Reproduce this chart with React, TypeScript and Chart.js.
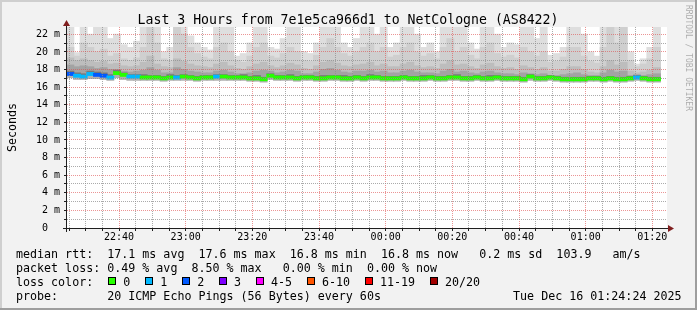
import { useEffect, useRef } from 'react';
import { Chart, registerables } from 'chart.js';

Chart.register(...registerables);

const FONT = '"DejaVu Sans Mono", monospace';

const TITLE = 'Last 3 Hours from 7e1e5ca966d1 to NetCologne (AS8422)';
const Y_AXIS_TITLE = 'Seconds';
const WATERMARK = 'RRDTOOL / TOBI OETIKER';

// time is expressed in minutes after 22:00
const WINDOW_START = 24.4; // 22:24:24
const WINDOW_END = 204.4; // 01:24:24
const COLUMN_MINUTES = 2;
const Y_MAX = 22.84;

const xMajorLabels = ['22:40', '23:00', '23:20', '23:40', '00:00', '00:20', '00:40', '01:00', '01:20'];
const yMajorLabels = ['0  ', '2 m', '4 m', '6 m', '8 m', '10 m', '12 m', '14 m', '16 m', '18 m', '20 m', '22 m'];

// median RTT per column (ms)
const medianRtt = [
  17.5, 17.3, 17.2, 17.5, 17.4, 17.3, 17.1, 17.6, 17.4, 17.2,
  17.2, 17.1, 17.1, 17.1, 17.0, 17.1, 17.1, 17.2, 17.1, 17.0,
  17.1, 17.1, 17.2, 17.2, 17.1, 17.1, 17.1, 17.0, 17.0, 16.9,
  17.3, 17.1, 17.1, 17.1, 17.0, 17.1, 17.1, 17.0, 17.0, 17.1,
  17.1, 17.0, 17.0, 17.1, 17.0, 17.1, 17.1, 17.0, 17.0, 17.0,
  17.1, 17.0, 17.0, 17.0, 17.1, 17.0, 17.0, 17.1, 17.1, 17.0,
  17.0, 17.1, 17.0, 17.0, 17.1, 17.0, 17.0, 17.0, 16.9, 17.2,
  17.0, 17.0, 17.1, 17.0, 16.9, 16.9, 16.9, 16.9, 17.0, 17.0,
  16.9, 17.0, 16.9, 16.9, 17.0, 17.1, 17.0, 16.9, 16.9,
];
// lowest ping per column (ms)
const minRtt = [
  17.1, 16.9, 16.9, 17.0, 17.0, 16.9, 16.8, 17.1, 16.9, 16.8,
  16.8, 16.8, 16.8, 16.8, 16.7, 16.8, 16.8, 16.8, 16.8, 16.7,
  16.8, 16.8, 16.8, 16.8, 16.8, 16.8, 16.8, 16.7, 16.7, 16.6,
  16.9, 16.8, 16.8, 16.8, 16.7, 16.8, 16.8, 16.7, 16.7, 16.8,
  16.8, 16.7, 16.7, 16.8, 16.7, 16.8, 16.8, 16.7, 16.7, 16.7,
  16.8, 16.7, 16.7, 16.7, 16.8, 16.7, 16.7, 16.8, 16.8, 16.7,
  16.7, 16.8, 16.7, 16.7, 16.8, 16.7, 16.7, 16.7, 16.6, 16.8,
  16.7, 16.7, 16.8, 16.7, 16.6, 16.6, 16.6, 16.6, 16.7, 16.7,
  16.6, 16.7, 16.6, 16.6, 16.7, 16.8, 16.7, 16.6, 16.6,
];
// smoke layer tops (ms), outermost (lightest) first
const smokeTop1 = [
  23, 19.9, 23, 22.0, 23, 23, 21.5, 22.0, 20.8, 20.5,
  21.2, 23, 23, 23, 20.0, 20.5, 23, 23, 21.8, 21.0,
  20.5, 20.2, 23, 23, 23, 19.5, 19.8, 21.0, 23, 23,
  20.5, 20.3, 21.5, 23, 23, 20.0, 19.8, 21.0, 23, 23,
  23, 21.0, 20.5, 21.5, 23, 23, 22.0, 23, 20.5, 21.0,
  23, 23, 22.0, 20.5, 21.0, 20.0, 23, 23, 23, 23,
  21.0, 20.3, 23, 23, 22.0, 20.5, 21.0, 20.8, 23, 23,
  21.5, 23, 19.6, 19.8, 20.5, 23, 23, 22.0, 20.0, 19.5,
  23, 23, 23, 23, 20.0, 18.6, 19.2, 20.5, 23,
];
const smokeTop2 = [
  20.5, 19.5, 21.0, 20.5, 20.0, 20.3, 19.5, 19.8, 19.2, 19.0,
  19.3, 20.5, 23, 21.0, 19.2, 19.0, 23, 22.0, 20.5, 19.8,
  19.4, 19.2, 20.5, 21.0, 20.0, 19.0, 18.8, 19.5, 20.5, 21.0,
  19.5, 19.3, 19.8, 20.5, 20.0, 19.0, 18.9, 19.6, 20.5, 21.5,
  20.5, 19.8, 19.5, 20.0, 20.5, 21.0, 20.0, 20.5, 19.4, 19.6,
  20.5, 21.0, 20.0, 19.5, 19.8, 19.2, 20.5, 21.5, 20.0, 20.5,
  19.6, 19.2, 20.5, 21.0, 19.8, 19.4, 19.6, 19.3, 20.5, 20.0,
  19.5, 20.0, 18.8, 18.9, 19.4, 20.5, 20.5, 19.5, 18.9, 18.7,
  20.5, 23, 21.0, 23, 19.0, 18.3, 18.6, 19.2, 20.5,
];
const smokeTop3 = [
  19.3, 19.0, 19.2, 19.0, 18.8, 18.9, 18.6, 18.7, 18.4, 18.3,
  18.4, 18.8, 19.5, 18.6, 18.3, 18.2, 19.2, 18.9, 18.6, 18.4,
  18.3, 18.2, 18.6, 18.8, 18.4, 18.1, 18.0, 18.3, 18.6, 18.8,
  18.4, 18.2, 18.4, 18.7, 18.5, 18.1, 18.0, 18.4, 18.8, 19.0,
  18.7, 18.4, 18.3, 18.5, 18.6, 18.8, 18.4, 18.6, 18.3, 18.3,
  18.6, 18.8, 18.4, 18.2, 18.3, 18.1, 18.6, 19.0, 18.5, 18.6,
  18.3, 18.1, 18.5, 18.7, 18.3, 18.1, 18.2, 18.0, 18.4, 18.2,
  18.0, 18.2, 17.8, 17.8, 18.0, 18.3, 18.3, 18.0, 17.7, 17.6,
  18.3, 19.0, 18.5, 18.8, 17.8, 17.6, 17.7, 17.9, 18.2,
];
const smokeTop4 = [
  18.5, 18.3, 18.4, 18.3, 18.1, 18.2, 18.0, 18.0, 17.8, 17.7,
  17.8, 17.9, 18.2, 17.9, 17.6, 17.6, 18.2, 18.0, 17.8, 17.7,
  17.6, 17.6, 17.8, 17.9, 17.7, 17.5, 17.5, 17.6, 17.8, 17.9,
  17.8, 17.6, 17.7, 17.9, 17.8, 17.5, 17.5, 17.7, 18.0, 18.1,
  17.9, 17.7, 17.6, 17.8, 17.8, 17.9, 17.7, 17.8, 17.6, 17.6,
  17.8, 17.9, 17.7, 17.6, 17.6, 17.5, 17.8, 18.0, 17.7, 17.8,
  17.6, 17.5, 17.7, 17.8, 17.6, 17.5, 17.5, 17.4, 17.6, 17.5,
  17.4, 17.5, 17.3, 17.3, 17.4, 17.5, 17.6, 17.4, 17.3, 17.3,
  17.6, 17.9, 17.7, 17.8, 17.3, 17.4, 17.3, 17.4, 17.5,
];
const smokeTop5 = [
  17.8, 17.6, 17.5, 17.8, 17.7, 17.6, 17.4, 17.9, 17.6, 17.4,
  17.4, 17.4, 17.3, 17.3, 17.2, 17.4, 17.3, 17.4, 17.3, 17.2,
  17.3, 17.3, 17.4, 17.4, 17.3, 17.3, 17.4, 17.2, 17.3, 17.1,
  17.5, 17.3, 17.3, 17.4, 17.2, 17.3, 17.3, 17.2, 17.3, 17.3,
  17.3, 17.3, 17.2, 17.3, 17.2, 17.4, 17.3, 17.2, 17.2, 17.2,
  17.3, 17.2, 17.2, 17.3, 17.3, 17.2, 17.2, 17.3, 17.4, 17.2,
  17.2, 17.3, 17.2, 17.3, 17.3, 17.2, 17.2, 17.2, 17.1, 17.4,
  17.2, 17.2, 17.3, 17.2, 17.1, 17.1, 17.1, 17.1, 17.2, 17.2,
  17.1, 17.2, 17.1, 17.1, 17.2, 17.3, 17.2, 17.1, 17.1,
];
// lost pings (of 20) per column
const lostPings = [
  2, 1, 1, 1, 2, 2, 1, 0, 0, 1,
  1, 0, 0, 0, 0, 0, 1, 0, 0, 0,
  0, 0, 1, 0, 0, 0, 0, 0, 0, 0,
  0, 0, 0, 0, 0, 0, 0, 0, 0, 0,
  0, 0, 0, 0, 0, 0, 0, 0, 0, 0,
  0, 0, 0, 0, 0, 0, 0, 0, 0, 0,
  0, 0, 0, 0, 0, 0, 0, 0, 0, 0,
  0, 0, 0, 0, 0, 0, 0, 0, 0, 0,
  0, 0, 0, 0, 0, 1, 0, 0, 0,
];

const lossBuckets = ['0', '1', '2', '3', '4-5', '6-10', '11-19', '20/20'];
const lossBucketMax = [0, 1, 2, 3, 5, 10, 19, 20];
const lossColors = ['#26ff00', '#00b8ff', '#0059ff', '#7e00ff', '#ff00ff', '#ff5500', '#ff0000', '#a10000'];
const smokeColors = ['#dedede', '#cfcfcf', '#bdbdbd', '#a3a3a3', '#787878'];
const LOW_SMOKE = '#b0b0b0';

const legendRtt = 'median rtt:  17.1 ms avg  17.6 ms max  16.8 ms min  16.8 ms now   0.2 ms sd  103.9   am/s';
const legendLoss = 'packet loss: 0.49 % avg  8.50 % max   0.00 % min  0.00 % now';
const legendLossColor = 'loss color:';
const legendProbe = 'probe:       20 ICMP Echo Pings (56 Bytes) every 60s';
const legendDate = 'Tue Dec 16 01:24:24 2025';

const toMinutes = (label: string) => {
  const [h, m] = label.split(':').map(Number);
  return (h < 22 ? h + 24 : h) * 60 + m - 22 * 60;
};

const lossColorFor = (lost: number) => {
  const idx = lossBucketMax.findIndex((mx) => lost <= mx);
  return lossColors[idx < 0 ? lossColors.length - 1 : idx];
};

export default function App() {
  const ref = useRef<HTMLCanvasElement>(null);

  useEffect(() => {
    document.body.style.margin = '0';
    const canvas = ref.current;
    if (!canvas) return;

    const xs = medianRtt.map((_, i) => WINDOW_START + COLUMN_MINUTES * (i + 0.5));
    const band = (lo: number[], hi: number[]) => xs.map((x, i) => ({ x, y: [lo[i], hi[i]] }));
    const medianHalf = 0.15;
    const medianBand = xs.map((x, i) => ({ x, y: [medianRtt[i] - medianHalf, medianRtt[i] + medianHalf] }));

    const majorMap = new Map<number, string>();
    xMajorLabels.forEach((l) => majorMap.set(toMinutes(l), l));
    const minorTicks: number[] = [];
    for (let t = Math.ceil(WINDOW_START / 5) * 5; t <= WINDOW_END; t += 5) minorTicks.push(t);
    const yTicks: number[] = [];
    for (let v = 0; v <= Math.floor(Y_MAX); v += 1) yTicks.push(v);

    const barCommon = {
      barPercentage: 1,
      categoryPercentage: 1,
      grouped: false,
      borderWidth: 0,
      inflateAmount: 0.6,
    };

    const smokeTops = [smokeTop1, smokeTop2, smokeTop3, smokeTop4, smokeTop5];
    const smokeSets = smokeTops.map((top, k) => ({
      ...barCommon,
      label: `smoke${k + 1}`,
      data: band(medianRtt, top),
      backgroundColor: smokeColors[k],
    }));

    const datasets: any[] = [
      {
        ...barCommon,
        label: 'median',
        data: medianBand,
        backgroundColor: (c: any) => lossColorFor(lostPings[c.dataIndex] ?? 0),
      },
      { ...barCommon, label: 'low', data: band(minRtt, medianRtt), backgroundColor: LOW_SMOKE },
      ...smokeSets.reverse(),
    ];

    const chromePlugin = {
      id: 'chrome',
      beforeDraw(chart: any) {
        const { ctx, width, height, chartArea } = chart;
        ctx.save();
        ctx.fillStyle = '#f2f2f2';
        ctx.fillRect(0, 0, width, height);
        ctx.fillStyle = '#cfcfcf';
        ctx.fillRect(0, 0, width, 2);
        ctx.fillRect(0, 0, 2, height);
        ctx.fillStyle = '#9e9e9e';
        ctx.fillRect(0, height - 2, width, 2);
        ctx.fillRect(width - 2, 0, 2, height);
        ctx.fillStyle = '#ffffff';
        ctx.fillRect(chartArea.left, chartArea.top, chartArea.right - chartArea.left, chartArea.bottom - chartArea.top);
        ctx.restore();
      },
      afterDraw(chart: any) {
        const { ctx, chartArea } = chart;
        const { left, right, top, bottom } = chartArea;
        ctx.save();
        // axes
        ctx.fillStyle = '#1f1f1f';
        ctx.fillRect(left - 1, top - 6, 1, bottom - top + 10);
        ctx.fillRect(left - 4, bottom, right - left + 5, 1);
        // arrows
        ctx.fillStyle = '#801f1f';
        ctx.beginPath();
        ctx.moveTo(left - 4, top - 1);
        ctx.lineTo(left + 3, top - 1);
        ctx.lineTo(left - 0.5, top - 7);
        ctx.closePath();
        ctx.fill();
        ctx.beginPath();
        ctx.moveTo(right + 1, bottom - 3);
        ctx.lineTo(right + 1, bottom + 4);
        ctx.lineTo(right + 7, bottom + 0.5);
        ctx.closePath();
        ctx.fill();

        // title
        ctx.fillStyle = '#000';
        ctx.font = `13.2px ${FONT}`;
        ctx.textAlign = 'center';
        ctx.textBaseline = 'alphabetic';
        ctx.fillText(TITLE, 348, 24);

        // y axis title
        ctx.font = `11.67px ${FONT}`;
        ctx.save();
        ctx.translate(15.5, (top + bottom) / 2);
        ctx.rotate(-Math.PI / 2);
        ctx.fillText(Y_AXIS_TITLE, 0, 0);
        ctx.restore();

        // watermark
        ctx.save();
        ctx.fillStyle = 'rgba(0,0,0,0.3)';
        ctx.font = `8px ${FONT}`;
        ctx.textAlign = 'left';
        ctx.translate(685.5, 5);
        ctx.rotate(Math.PI / 2);
        ctx.fillText(WATERMARK, 0, 0);
        ctx.restore();

        // legend
        ctx.font = `11.67px ${FONT}`;
        ctx.textAlign = 'left';
        ctx.fillStyle = '#000';
        ctx.fillText(legendRtt, 16, 257.5);
        ctx.fillText(legendLoss, 16, 271.7);
        ctx.fillText(legendLossColor, 16, 285.8);
        let sx = 108.3;
        lossBuckets.forEach((label, i) => {
          const rx = Math.round(sx);
          ctx.fillStyle = '#000';
          ctx.fillRect(rx, 277, 8, 8);
          ctx.fillStyle = lossColors[i];
          ctx.fillRect(rx + 1, 278, 6, 6);
          ctx.fillStyle = '#000';
          ctx.fillText(label, sx + 15, 285.8);
          sx += 15 + ctx.measureText(label).width + 14.9;
        });
        ctx.fillText(legendProbe, 16, 300);
        ctx.textAlign = 'right';
        ctx.fillText(legendDate, 681.5, 300);
        ctx.restore();
      },
    };

    const chart = new Chart(canvas, {
      type: 'bar',
      data: { datasets },
      plugins: [chromePlugin],
      options: {
        animation: false,
        responsive: false,
        maintainAspectRatio: false,
        events: [],
        layout: { padding: { top: 27, right: 30, left: 0, bottom: 0 } },
        plugins: {
          legend: { display: false },
          title: { display: false },
          tooltip: { enabled: false },
        },
        scales: {
          x: {
            type: 'linear',
            min: WINDOW_START,
            max: WINDOW_END,
            offset: false,
            afterFit: (s: any) => {
              s.height = 82;
            },
            afterBuildTicks: (s: any) => {
              s.ticks = minorTicks.map((value) => ({ value }));
            },
            grid: {
              offset: false,
              z: 1,
              lineWidth: 1,
              color: (c: any) => (majorMap.has(c.tick?.value) ? 'rgba(222,79,79,0.6)' : 'rgba(143,143,143,0.75)'),
              drawTicks: true,
              tickLength: 3,
              tickColor: '#1f1f1f',
              tickWidth: 1,
            },
            border: { display: false, dash: [1, 1] },
            ticks: {
              autoSkip: false,
              maxRotation: 0,
              minRotation: 0,
              padding: 0,
              color: '#000',
              font: { family: FONT, size: 10 },
              callback: (v: any) => majorMap.get(Number(v)) ?? '',
            },
          },
          y: {
            type: 'linear',
            min: 0,
            max: Y_MAX,
            afterFit: (s: any) => {
              s.width = 67;
            },
            afterBuildTicks: (s: any) => {
              s.ticks = yTicks.map((value) => ({ value }));
            },
            grid: {
              z: 1,
              lineWidth: 1,
              color: (c: any) => ((c.tick?.value ?? 1) % 2 === 0 ? 'rgba(222,79,79,0.6)' : 'rgba(143,143,143,0.75)'),
              drawTicks: true,
              tickLength: 3,
              tickColor: '#1f1f1f',
              tickWidth: 1,
            },
            border: { display: false, dash: [1, 1] },
            ticks: {
              autoSkip: false,
              padding: 4,
              color: '#000',
              font: { family: FONT, size: 10 },
              callback: (v: any) => {
                const n = Number(v);
                return n % 2 === 0 ? yMajorLabels[n / 2] ?? '' : '';
              },
            },
          },
        },
      },
    });

    return () => chart.destroy();
  }, []);

  return <canvas ref={ref} width={697} height={310} style={{ display: 'block', width: 697, height: 310 }} />;
}
